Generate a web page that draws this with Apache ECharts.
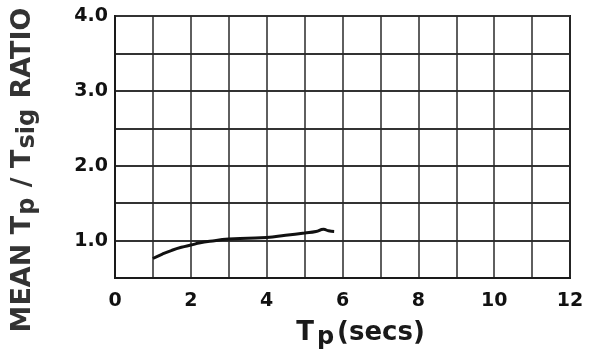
<!DOCTYPE html>
<html>
<head>
<meta charset="utf-8">
<script src="https://cdn.jsdelivr.net/npm/echarts@6/dist/echarts.min.js"></script>
<style>html,body{margin:0;padding:0;background:#fff}#c{width:601px;height:356px}</style>
</head>
<body>
<div id="c"></div>
<script>
var tpValues = [1.0, 1.25, 1.5, 1.75, 2.0, 2.25, 2.5, 3.0, 3.5, 4.0, 4.5, 5.0, 5.3, 5.5, 5.63, 5.78];
var ratioValues = [0.76, 0.82, 0.87, 0.91, 0.94, 0.97, 0.99, 1.02, 1.03, 1.04, 1.07, 1.10, 1.12, 1.15, 1.13, 1.12];
var xTickLabels = ['0', '2', '4', '6', '8', '10', '12'];
var yTickLabels = ['1.0', '2.0', '3.0', '4.0'];

var chart = echarts.init(document.getElementById('c'), null, {renderer: 'canvas'});
var font = 'DejaVu Sans, Liberation Sans, sans-serif';
var data = tpValues.map(function (x, i) { return [x, ratioValues[i]]; });
chart.setOption({
  animation: false,
  backgroundColor: '#fff',
  grid: {left: 115, right: 31, top: 16, bottom: 78, show: true, borderColor: '#1a1a1a', borderWidth: 2},
  xAxis: {
    type: 'value', min: 0, max: 12, interval: 1,
    axisLine: {show: true, lineStyle: {color: '#1a1a1a', width: 2}},
    axisTick: {show: false},
    splitLine: {show: true, lineStyle: {color: '#2a2a2a', width: 1.5}},
    axisLabel: {
      margin: 14, color: '#111', fontFamily: font, fontWeight: 'bold', fontSize: 19,
      formatter: function (v) { var s = String(v); return xTickLabels.indexOf(s) >= 0 ? s : ''; }
    },
    name: '{a|T}{s|p}{a|(secs)}',
    nameLocation: 'middle', nameGap: 39,
    nameTextStyle: {
      padding: [0, 0, 0, 36],
      rich: {
        a: {fontFamily: font, fontWeight: 'bold', fontSize: 26, color: '#1a1a1a'},
        s: {fontFamily: font, fontWeight: 'bold', fontSize: 24, color: '#1a1a1a', padding: [9, 3, 0, 3]}
      }
    }
  },
  yAxis: {
    type: 'value', min: 0.5, max: 4, interval: 0.5,
    axisLine: {show: true, lineStyle: {color: '#1a1a1a', width: 2}},
    axisTick: {show: false},
    splitLine: {show: true, lineStyle: {color: '#333', width: 2}},
    axisLabel: {
      margin: 7, color: '#111', fontFamily: font, fontWeight: 'bold', fontSize: 19,
      formatter: function (v) { var s = v.toFixed(1); return yTickLabels.indexOf(s) >= 0 ? s : ''; }
    },
    name: '{a|MEAN T}{s|p}{a| / T}{s|sig}{a| RATIO}',
    nameLocation: 'middle', nameGap: 75,
    nameTextStyle: {
      padding: [0, 46, 0, 0],
      rich: {
        a: {fontFamily: font, fontWeight: 'bold', fontSize: 27, color: '#333'},
        s: {fontFamily: font, fontWeight: 'bold', fontSize: 24, color: '#333', padding: [10, 1, 0, 1]}
      }
    }
  },
  series: [{
    type: 'line', data: data, smooth: true, showSymbol: false,
    lineStyle: {color: '#111', width: 3}
  }]
});
</script>
</body>
</html>
